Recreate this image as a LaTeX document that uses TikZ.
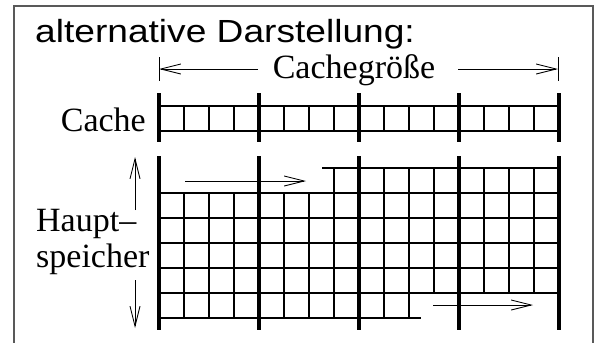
\documentclass[tikz,border=0pt]{standalone}
\usepackage{fontspec}
\setmainfont{Liberation Serif}
\newfontfamily\headfont{Liberation Sans}[FakeStretch=1.16]
\usetikzlibrary{arrows.meta}

\tikzset{
  cell/.style={line width=1.1pt},
  bar/.style={line width=4.5pt},
  dim/.style={line width=0.9pt, -{Straight Barb[length=20pt,width=10pt]}},
  lbl/.style={inner sep=0pt, font=\fontsize{34}{40}\selectfont},
}

\begin{document}
\begin{tikzpicture}[x=1pt,y=-1pt]
\useasboundingbox (0,0) rectangle (598,343);
% frame, open at the bottom
\draw[gray!70!black, line width=1.4pt] (14,343) |- (593,6) -- (593,343);
\node[anchor=base west, inner sep=0pt, font=\headfont\fontsize{32}{38}\selectfont] (title) at (35,42) {alternative Darstellung:};

% cache size
\node[lbl, anchor=base] (size) at (354,78) {Cachegröße};
\coordinate (szLa) at (258,69); \coordinate (szL) at (159,69);
\coordinate (szRa) at (458,69); \coordinate (szR) at (558,69);
\draw[dim] (szLa) -- (szL);
\draw[dim] (szRa) -- (szR);
\draw[line width=0.9pt] (szL) ++(0,-12) -- ++(0,24);
\draw[line width=0.9pt] (szR) ++(0,-12) -- ++(0,24);

% one cache line
\node[lbl, anchor=base east] (cache) at (146,131) {Cache};
\draw[cell] (159,106) -- (559,106) (159,131) -- (559,131);
\foreach \k in {1,...,15}
  \draw[cell] ({159+25*\k},106) -- ++(0,25);

% main memory, wrapped in rows of cache size
\node[lbl, anchor=base west] (haupt) at (36,231) {Haupt–};
\node[lbl, anchor=base west] (speicher) at (36,267) {speicher};
\draw[cell] (322,168) -- (559,168);
\foreach \y in {193,218,243,268,293}
  \draw[cell] (159,\y) -- (559,\y);
\draw[cell] (159,318) -- (421,318);
\foreach \k in {7,...,16}
  \draw[cell] ({159+25*\k},168) -- ++(0,25);
\foreach \k in {0,...,16}
  \draw[cell] ({159+25*\k},193) -- ++(0,100);
\foreach \k in {0,...,10}
  \draw[cell] ({159+25*\k},293) -- ++(0,25);

% block boundaries
\foreach \j in {0,...,4} {
  \draw[bar] ({159+100*\j},93) -- ++(0,49);
  \draw[bar] ({159+100*\j},156) -- ++(0,174);
}

% direction of the addresses
\coordinate (r1a) at (185,181); \coordinate (r1b) at (306,181);
\coordinate (r6a) at (433,305); \coordinate (r6b) at (533,305);
\draw[dim] (r1a) -- (r1b);
\draw[dim] (r6a) -- (r6b);
\coordinate (upa) at (135,210); \coordinate (upb) at (135,157);
\coordinate (dna) at (135,280); \coordinate (dnb) at (135,328);
\draw[dim] (upa) -- (upb);
\draw[dim] (dna) -- (dnb);
\end{tikzpicture}
\end{document}
